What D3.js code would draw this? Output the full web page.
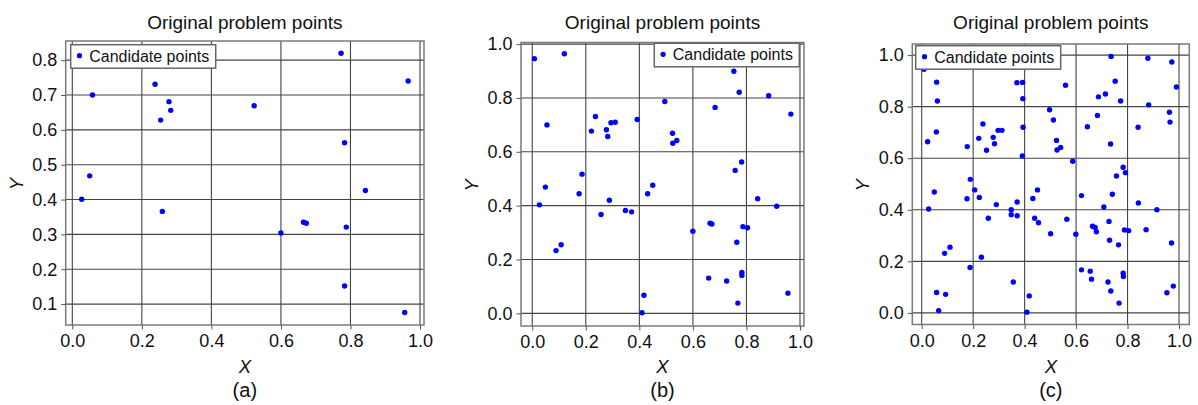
<!DOCTYPE html>
<html>
<head>
<meta charset="utf-8">
<script src="https://cdn.jsdelivr.net/npm/d3@7.9.0/dist/d3.min.js"></script>
<style>
  body { margin: 0; background: #fff; }
  svg { display: block; font-family: 'Liberation Sans', Arial, sans-serif; }
</style>
</head>
<body>
<svg id="chart" width="1198" height="405"></svg>
<script>
// candidate points, [x, y]
const pointsA = [
  [0.027, 0.401], [0.050, 0.468], [0.058, 0.700], [0.238, 0.731], [0.254, 0.628],
  [0.259, 0.366], [0.278, 0.681], [0.283, 0.656], [0.523, 0.669], [0.600, 0.304],
  [0.665, 0.335], [0.673, 0.332], [0.773, 0.820], [0.783, 0.563], [0.788, 0.321],
  [0.783, 0.152], [0.843, 0.426], [0.956, 0.076], [0.966, 0.740]
];

const pointsB = [
  [0.008, 0.946], [0.120, 0.964], [0.055, 0.700], [0.027, 0.403], [0.049, 0.469],
  [0.089, 0.233], [0.108, 0.255], [0.175, 0.444], [0.186, 0.517], [0.221, 0.677],
  [0.236, 0.731], [0.257, 0.367], [0.277, 0.682], [0.282, 0.657], [0.288, 0.420],
  [0.294, 0.708], [0.310, 0.710], [0.348, 0.382], [0.371, 0.377], [0.392, 0.720],
  [0.410, 0.002], [0.417, 0.067], [0.431, 0.444], [0.450, 0.476], [0.495, 0.787],
  [0.524, 0.669], [0.525, 0.632], [0.540, 0.642], [0.600, 0.305], [0.659, 0.131],
  [0.664, 0.335], [0.671, 0.332], [0.683, 0.765], [0.726, 0.120], [0.753, 0.899],
  [0.758, 0.531], [0.764, 0.264], [0.768, 0.038], [0.773, 0.821], [0.782, 0.562],
  [0.783, 0.152], [0.783, 0.141], [0.787, 0.322], [0.804, 0.318], [0.842, 0.426],
  [0.883, 0.808], [0.913, 0.398], [0.955, 0.075], [0.966, 0.740]
];

const pointsC = [
  [0.009, 0.945], [0.058, 0.895], [0.061, 0.822], [0.057, 0.702], [0.023, 0.664],
  [0.238, 0.733], [0.222, 0.677], [0.177, 0.645], [0.252, 0.631], [0.278, 0.681],
  [0.283, 0.656], [0.297, 0.708], [0.312, 0.708], [0.370, 0.893], [0.392, 0.894],
  [0.393, 0.831], [0.394, 0.720], [0.391, 0.609], [0.189, 0.518], [0.497, 0.788],
  [0.512, 0.748], [0.559, 0.883], [0.736, 0.995], [0.879, 0.988], [0.972, 0.973],
  [0.752, 0.899], [0.687, 0.838], [0.714, 0.849], [0.773, 0.822], [0.990, 0.876],
  [0.882, 0.807], [0.963, 0.778], [0.965, 0.740], [0.683, 0.766], [0.644, 0.722],
  [0.841, 0.720], [0.524, 0.669], [0.526, 0.632], [0.540, 0.642], [0.734, 0.655],
  [0.587, 0.588], [0.783, 0.565], [0.792, 0.544], [0.757, 0.531],
  [0.049, 0.469], [0.027, 0.403], [0.176, 0.443], [0.206, 0.477], [0.224, 0.448],
  [0.290, 0.420], [0.259, 0.367], [0.348, 0.400], [0.348, 0.381], [0.371, 0.430],
  [0.371, 0.377], [0.450, 0.477], [0.432, 0.444], [0.439, 0.367], [0.454, 0.350],
  [0.501, 0.307], [0.110, 0.255], [0.089, 0.231], [0.232, 0.216], [0.188, 0.176],
  [0.356, 0.120], [0.058, 0.079], [0.093, 0.072], [0.066, 0.009], [0.418, 0.066],
  [0.409, 0.003],
  [0.621, 0.455], [0.741, 0.460], [0.708, 0.411], [0.842, 0.426], [0.914, 0.400],
  [0.564, 0.363], [0.599, 0.305], [0.664, 0.336], [0.674, 0.331], [0.679, 0.315],
  [0.728, 0.355], [0.788, 0.322], [0.804, 0.319], [0.872, 0.323], [0.730, 0.282],
  [0.765, 0.264], [0.971, 0.271], [0.621, 0.167], [0.655, 0.162], [0.660, 0.131],
  [0.724, 0.120], [0.735, 0.085], [0.783, 0.154], [0.784, 0.141], [0.767, 0.038],
  [0.953, 0.078], [0.978, 0.104], [0.120, 0.964]
];

const xTicks = [0, 0.2, 0.4, 0.6, 0.8, 1.0];
const yTicksA = [0.1, 0.2, 0.3, 0.4, 0.5, 0.6, 0.7, 0.8];
const yTicksBC = [0, 0.2, 0.4, 0.6, 0.8, 1.0];

const titleText = 'Original problem points';
const legendText = 'Candidate points';
const panelLabels = ['(a)', '(b)', '(c)'];

// layout for each panel (pixel frame + axis extents)
const panels = [
  { points: pointsA, yTicks: yTicksA, label: panelLabels[0],
    frame: { left: 65.7, right: 424, top: 41, bottom: 325 },
    xDomain: [-0.019, 1.0115], yDomain: [0.04, 0.855],
    legend: { x: 70.7, y: 44.7 } },
  { points: pointsB, yTicks: yTicksBC, label: panelLabels[1],
    frame: { left: 521, right: 804, top: 42.5, bottom: 326 },
    xDomain: [-0.042, 1.015], yDomain: [-0.047, 1.006],
    legend: { x: 654.3, y: 43.3 } },
  { points: pointsC, yTicks: yTicksBC, label: panelLabels[2],
    frame: { left: 912.3, right: 1189.3, top: 44, bottom: 324.5 },
    xDomain: [-0.0365, 1.04], yDomain: [-0.045, 1.043],
    legend: { x: 915.7, y: 45.7 } }
];

const svg = d3.select('#chart');
const fmt = d3.format('.1f');

function drawPanel(p) {
  const f = p.frame;
  const g = svg.append('g');
  const cx = (f.left + f.right) / 2;
  const cy = (f.top + f.bottom) / 2;

  const x = d3.scaleLinear().domain(p.xDomain).range([f.left, f.right]);
  const y = d3.scaleLinear().domain(p.yDomain).range([f.bottom, f.top]);

  // gridlines
  g.append('g')
    .selectAll('line')
    .data(xTicks)
    .join('line')
    .attr('x1', (d) => x(d)).attr('x2', (d) => x(d))
    .attr('y1', f.top).attr('y2', f.bottom)
    .attr('stroke', '#444').attr('stroke-width', 1.1);

  g.append('g')
    .selectAll('line')
    .data(p.yTicks)
    .join('line')
    .attr('x1', f.left).attr('x2', f.right)
    .attr('y1', (d) => y(d)).attr('y2', (d) => y(d))
    .attr('stroke', '#444').attr('stroke-width', 1.1);

  // frame
  g.append('rect')
    .attr('x', f.left).attr('y', f.top)
    .attr('width', f.right - f.left).attr('height', f.bottom - f.top)
    .attr('fill', 'none').attr('stroke', '#7a7a7a').attr('stroke-width', 1.5);

  // axes
  const xAxis = g.append('g')
    .attr('transform', `translate(0,${f.bottom})`)
    .call(d3.axisBottom(x).tickValues(xTicks).tickFormat(fmt).tickSize(4.5).tickPadding(5));
  const yAxis = g.append('g')
    .attr('transform', `translate(${f.left},0)`)
    .call(d3.axisLeft(y).tickValues(p.yTicks).tickFormat(fmt).tickSize(4.5).tickPadding(4));
  [xAxis, yAxis].forEach((a) => {
    a.select('.domain').remove();
    a.selectAll('line').attr('stroke', '#555');
    a.selectAll('text')
      .attr('fill', '#111')
      .style('font-size', '18px')
      .style('font-family', "'Liberation Sans', Arial, sans-serif");
  });

  // points
  g.append('g')
    .selectAll('circle')
    .data(p.points)
    .join('circle')
    .attr('cx', (d) => x(d[0]))
    .attr('cy', (d) => y(d[1]))
    .attr('r', 2.7)
    .attr('fill', '#0000ff');

  // legend
  const lg = g.append('g').attr('transform', `translate(${p.legend.x},${p.legend.y})`);
  lg.append('rect')
    .attr('width', 145).attr('height', 23.5)
    .attr('fill', '#fff').attr('stroke', '#666').attr('stroke-width', 1.5);
  lg.append('circle').attr('cx', 8.8).attr('cy', 11).attr('r', 2.6).attr('fill', '#0000ff');
  lg.append('text')
    .attr('x', 18.5).attr('y', 17)
    .style('font-size', '16px').attr('fill', '#111')
    .text(legendText);

  // titles and labels
  g.append('text')
    .attr('x', cx).attr('y', 28.5)
    .attr('text-anchor', 'middle')
    .style('font-size', '19px').attr('fill', '#111')
    .text(titleText);

  g.append('text')
    .attr('x', cx).attr('y', 372.5)
    .attr('text-anchor', 'middle')
    .style('font-size', '18.5px').style('font-style', 'italic').attr('fill', '#111')
    .text('X');

  g.append('text')
    .attr('transform', `translate(${f.left - 43},${cy + 1}) rotate(-90)`)
    .attr('text-anchor', 'middle')
    .style('font-size', '18.5px').style('font-style', 'italic').attr('fill', '#111')
    .text('Y');

  g.append('text')
    .attr('x', cx).attr('y', 397)
    .attr('text-anchor', 'middle')
    .style('font-size', '20px').attr('fill', '#111')
    .text(p.label);
}

panels.forEach(drawPanel);
</script>
</body>
</html>
